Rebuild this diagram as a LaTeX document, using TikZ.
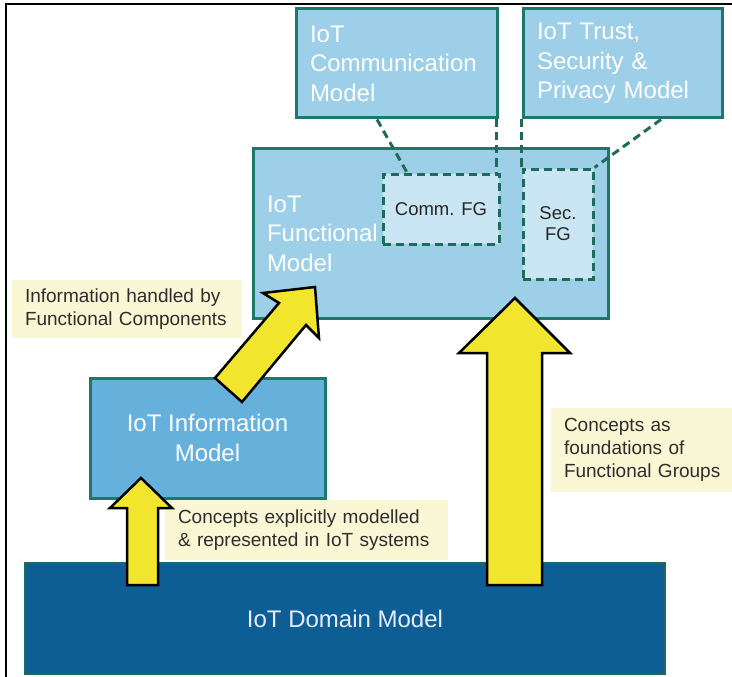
\documentclass[tikz,border=0pt]{standalone}
\usepackage{fontspec}
\setmainfont{Liberation Sans}
\definecolor{boxblue}{RGB}{157,207,232}
\definecolor{infoblue}{RGB}{102,176,220}
\definecolor{domblue}{RGB}{14,94,150}
\definecolor{tealline}{RGB}{30,120,105}
\definecolor{fgfill}{RGB}{202,230,244}
\definecolor{fgline}{RGB}{31,107,90}
\definecolor{arrowyellow}{RGB}{242,229,46}
\definecolor{notefill}{RGB}{250,248,212}
\definecolor{notetext}{RGB}{45,45,45}
\tikzset{
  model/.style={draw=tealline, line width=3pt, fill=boxblue, text=white,
    font=\fontsize{24}{29.5}\selectfont, inner ysep=0pt},
  fgbox/.style={draw=fgline, line width=3pt, dash pattern=on 8pt off 5pt,
    fill=fgfill, text=black!85, font=\fontsize{18.5}{21}\selectfont, align=center},
  note/.style={fill=notefill, text=notetext, font=\fontsize{19}{23}\selectfont,
    align=left, inner ysep=0pt},
  fglink/.style={draw=fgline, line width=3pt, dash pattern=on 8pt off 5pt},
  blockarrow/.style={fill=arrowyellow, draw=black, line width=2.5pt, line join=miter},
  frameline/.style={draw=black, line width=2pt}
}
\begin{document}
\begin{tikzpicture}[x=1pt,y=-1pt]
\useasboundingbox (0,0) rectangle (732,677);

% outer frame (top and left edges)
\draw[frameline] (6,677) -- (6,4.5) -- (732,4.5);

% notes
\node[note, minimum width=230, minimum height=58, text width=204, inner xsep=13] (note1)
  at (127,309) {Information handled by\\Functional Components};
\node[note, minimum width=283, minimum height=60, text width=257, inner xsep=13] (note2)
  at (306.5,530) {Concepts explicitly modelled\\\& represented in IoT systems};
\node[note, minimum height=84, text width=160, inner xsep=13] (note3)
  at (644,450) {Concepts as\\foundations of\\Functional Groups};

% model boxes
\node[model, minimum width=201, minimum height=109, text width=173, inner xsep=14, align=left] (comm)
  at (396.5,63.5) {IoT\\Communication\\Model};
\node[model, minimum width=199, minimum height=109, text width=171, inner xsep=14, align=left] (trust)
  at (622.5,63.5) {IoT Trust,\\Security \&\\Privacy Model};
\node[model, minimum width=355, minimum height=169, text width=327, inner xsep=14, align=left] (func)
  at (430.5,233.5) {IoT\\Functional\\Model};
\node[model, fill=infoblue, minimum width=235, minimum height=120, align=center] (info)
  at (207.5,438) {IoT Information\\Model};
\node[model, fill=domblue, draw=fgline, line width=1.5pt, minimum width=640, minimum height=111,
  align=center, text=white!92!blue] (domain)
  at (345,618.5) {IoT Domain Model};

% functional groups
\node[fgbox, minimum width=116, minimum height=70] (commfg) at (441,209) {Comm. FG};
\node[fgbox, minimum width=70, minimum height=110] (secfg) at (558,224) {Sec.\\FG};

% links from models to functional groups
\draw[fglink] ([xshift=-19.5pt]comm.south) -- ([xshift=-34pt]commfg.north);
\draw[fglink] ([xshift=-2pt]comm.south east) -- ([xshift=-2pt]comm.south east |- commfg.north);
\draw[fglink] (trust.south west) -- (trust.south west |- secfg.north);
\draw[fglink] ([xshift=38.5pt]trust.south) -- (secfg.north east);

% block arrows
\draw[blockarrow] (141,478) -- (172,508) -- (158,508) -- (158,585) -- (127,585)
  -- (127,508) -- (110,508) -- cycle;
\draw[blockarrow] (515,298) -- (570,353) -- (542,353) -- (542,585) -- (487,585)
  -- (487,353) -- (459,353) -- cycle;
\draw[blockarrow] (315,287) -- (319,338) -- (306,325) -- (242,402) -- (215,378)
  -- (279,303) -- (263,293) -- cycle;
\end{tikzpicture}
\end{document}
